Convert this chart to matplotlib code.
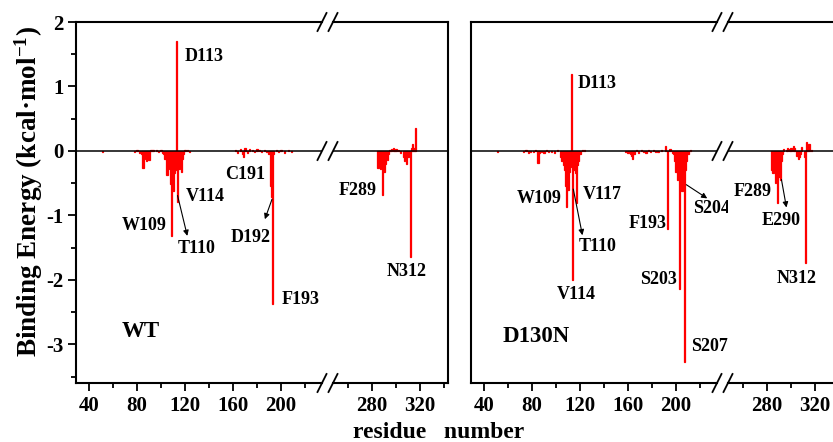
import matplotlib.pyplot as plt
from matplotlib.lines import Line2D

plt.rcParams['font.family'] = 'Liberation Serif'
plt.rcParams['font.weight'] = 'bold'
plt.rcParams['axes.unicode_minus'] = False
plt.rcParams['mathtext.fontset'] = 'custom'
plt.rcParams['mathtext.rm'] = 'Liberation Serif:bold'
plt.rcParams['mathtext.it'] = 'Liberation Serif:bold'
plt.rcParams['mathtext.bf'] = 'Liberation Serif:bold'

# per-residue binding energy, WT
wt_res = [51, 78, 80, 82, 84, 85, 86, 87, 88, 89, 90, 91, 92, 93, 94, 96, 98, 100, 101, 102, 103,
          104, 105, 106, 107, 108, 109, 110, 111, 112, 113, 114, 115, 116, 117, 118, 119, 120, 122, 124,
          162, 164, 166, 168, 169, 170, 172, 174, 176, 178, 180, 182, 184, 186, 188, 190, 191, 192, 193,
          194, 196, 198, 200, 203, 206, 209,
          285, 286, 287, 288, 289, 290, 291, 292, 293, 294, 295, 296, 298, 299, 300, 302, 304,
          306, 307, 308, 309, 310, 311, 312, 313, 314, 315, 316]
wt_dg = [-0.02, -0.02, 0.01, -0.03, -0.05, -0.27, -0.08, -0.12, -0.16, -0.05, -0.14, 0.02, 0.01, 0.02, 0.01, 0.02, -0.02, 0.02, -0.03, -0.05, -0.12,
         -0.12, -0.38, -0.22, -0.28, -0.52, -1.32, -0.62, -0.35, -0.3, 1.7, -0.79, -0.28, -0.2, -0.33, -0.12, -0.05, 0.02, 0.02, -0.01,
         0.02, -0.03, 0.03, -0.05, -0.1, 0.04, -0.03, 0.03, 0.02, -0.02, 0.03, 0.02, -0.02, 0.02, -0.02, -0.04, -0.55, -0.72, -2.37,
         -0.05, 0.02, -0.02, 0.02, -0.03, 0.02, -0.02,
         -0.27, -0.2, -0.28, -0.15, -0.68, -0.33, -0.2, -0.12, -0.14, -0.05, 0.02, 0.03, 0.04, 0.02, 0.03, 0.02, -0.03,
         -0.1, -0.15, -0.12, -0.2, -0.1, -0.08, -1.64, 0.05, 0.1, 0.05, 0.35]

# per-residue binding energy, D130N
mut_res = [51, 73, 75, 77, 79, 81, 83, 85, 86, 88, 90, 92, 94, 96, 99, 101,
           104, 105, 106, 107, 108, 109, 110, 111, 112, 113, 114, 115, 116, 117, 118, 119, 120, 122, 124,
           158, 160, 162, 163, 164, 165, 167, 169, 171, 173, 175, 177, 179, 181, 183, 185, 188, 191, 193,
           195, 197, 198, 199, 200, 201, 202, 203, 204, 205, 206, 207, 208, 209, 210, 212,
           284, 285, 286, 287, 288, 289, 290, 291, 292, 293, 294, 296, 297, 299, 300, 302, 303,
           305, 306, 307, 308, 309, 311, 312, 313, 314, 315, 317]
mut_dg = [-0.02, -0.02, 0.01, -0.03, -0.02, -0.02, 0.02, -0.19, -0.03, -0.02, -0.03, 0.02, -0.02, -0.02, -0.03, 0.02,
          -0.1, -0.15, -0.22, -0.3, -0.55, -0.87, -0.6, -0.32, -0.25, 1.19, -2.0, -0.3, -0.35, -0.8, -0.22, -0.15, -0.05, 0.02, 0.02,
          -0.02, -0.03, -0.05, -0.08, -0.12, -0.04, 0.02, -0.03, 0.02, -0.02, -0.03, 0.02, -0.02, 0.02, -0.02, -0.02, 0.02, 0.08, -1.21,
          0.03, -0.03, -0.05, -0.15, -0.33, -0.45, -0.4, -2.14, -0.5, -0.62, -0.4, -3.27, -0.3, -0.15, -0.05, 0.02,
          -0.3, -0.35, -0.2, -0.5, -0.3, -0.81, -0.4, -0.45, -0.15, -0.05, 0.03, 0.02, 0.04, 0.03, 0.05, 0.08, 0.04,
          -0.08, -0.12, -0.1, -0.05, 0.06, -0.1, -1.74, 0.14, 0.05, 0.1, 0.02]

W, H = 833, 442
fig = plt.figure(figsize=(W / 100, H / 100), dpi=100)


def px_axes(x0, x1, y0=22, y1=383):
    return fig.add_axes([x0 / W, 1 - y1 / H, (x1 - x0) / W, (y1 - y0) / H])


def slash(x, y):
    # one "/" of a break mark, pixel coords (y from top)
    fig.add_artist(Line2D([(x - 4.5) / W, (x + 4.5) / W],
                          [1 - (y + 9) / H, 1 - (y - 9) / H],
                          transform=fig.transFigure, color='black', lw=1.3))


panels = []
for off, res, dg in [(0, wt_res, wt_dg), (395, mut_res, mut_dg)]:
    a1 = px_axes(76 + off, 322 + off)
    a2 = px_axes(333 + off, 448 + off)
    for ax in (a1, a2):
        ax.bar(res, dg, width=1.0, color='#ff0000', edgecolor='#ff0000', linewidth=0.9)
        ax.axhline(0, color='black', lw=1.1)
        ax.set_ylim(-3.6, 2.0)
        for s in ax.spines.values():
            s.set_linewidth(1.5)
        ax.tick_params(axis='x', which='major', length=5.5, width=1.3, labelsize=15, pad=4)
        ax.tick_params(axis='x', which='minor', length=3.5, width=1.3)
    a1.set_xlim(29.2, 234.2)
    a2.set_xlim(247.5, 343.3)
    a1.spines['right'].set_visible(False)
    a2.spines['left'].set_visible(False)
    a1.set_xticks([40, 80, 120, 160, 200])
    a1.set_xticks([60, 100, 140, 180, 220], minor=True)
    a2.set_xticks([280, 320])
    a2.set_xticks([260, 300, 340], minor=True)
    a2.tick_params(axis='y', which='both', left=False, labelleft=False)
    if off == 0:
        a1.set_yticks([-3, -2, -1, 0, 1, 2])
        a1.set_yticks([-3.5, -2.5, -1.5, -0.5, 0.5, 1.5], minor=True)
        a1.tick_params(axis='y', which='major', length=5.5, width=1.3, labelsize=15)
        a1.tick_params(axis='y', which='minor', length=3.5, width=1.3)
    else:
        a1.tick_params(axis='y', which='both', left=False, labelleft=False)
    for x in (322 + off, 333 + off):
        for y in (22, 151, 383):
            slash(x, y)
    panels.append((a1, a2))

arrow = dict(arrowstyle='-|>', color='black', lw=0.8, mutation_scale=8)
fs = 13

# WT labels
a1, a2 = panels[0]
a1.text(120, 1.47, 'D113', fontsize=fs, ha='left', va='center')
a1.text(120.5, -0.7, 'V114', fontsize=fs, ha='left', va='center')
a1.text(105, -1.15, 'W109', fontsize=fs, ha='right', va='center')
a1.text(114, -1.52, 'T110', fontsize=fs, ha='left', va='center')
a1.annotate('', xy=(122.5, -1.36), xytext=(113.3, -0.65), arrowprops=arrow)
a1.text(186.7, -0.36, 'C191', fontsize=fs, ha='right', va='center')
a1.text(158, -1.35, 'D192', fontsize=fs, ha='left', va='center')
a1.annotate('', xy=(185.8, -1.1), xytext=(193.3, -0.71), arrowprops=arrow)
a1.text(200.8, -2.31, 'F193', fontsize=fs, ha='left', va='center')
a1.text(67.5, -2.8, 'WT', fontsize=16.5, ha='left', va='center')
a2.text(284, -0.62, 'F289', fontsize=fs, ha='right', va='center')
a2.text(309, -1.87, 'N312', fontsize=fs, ha='center', va='center')

# D130N labels
a1, a2 = panels[1]
a1.text(118, 1.04, 'D113', fontsize=fs, ha='left', va='center')
a1.text(105, -0.74, 'W109', fontsize=fs, ha='right', va='center')
a1.text(122.5, -0.68, 'V117', fontsize=fs, ha='left', va='center')
a1.text(119, -1.49, 'T110', fontsize=fs, ha='left', va='center')
a1.annotate('', xy=(122.5, -1.35), xytext=(114, -0.55), arrowprops=arrow)
a1.text(116.7, -2.23, 'V114', fontsize=fs, ha='center', va='center')
a1.text(192.5, -1.13, 'F193', fontsize=fs, ha='right', va='center')
a1.text(214, -0.89, 'S204', fontsize=fs, ha='left', va='center')
a1.annotate('', xy=(228, -0.76), xytext=(206.7, -0.5), arrowprops=arrow)
a1.text(200.8, -2.0, 'S203', fontsize=fs, ha='right', va='center')
a1.text(212.5, -3.04, 'S207', fontsize=fs, ha='left', va='center')
a1.text(55.8, -2.88, 'D130N', fontsize=16.5, ha='left', va='center')
a2.text(284, -0.63, 'F289', fontsize=fs, ha='right', va='center')
a2.text(291.6, -1.08, 'E290', fontsize=fs, ha='center', va='center')
a2.annotate('', xy=(296.6, -0.92), xytext=(291.6, -0.4), arrowprops=arrow)
a2.text(304.5, -1.98, 'N312', fontsize=fs, ha='center', va='center')

fig.text(29 / W, 1 - 192 / H, r'Binding Energy (kcal·mol$^{-1}$)', rotation=90,
         ha='center', va='center', fontsize=19.5)
fig.text(439 / W, 1 - 432 / H, 'residue   number', ha='center', va='center', fontsize=17)

fig.savefig('out.png', dpi=100)
